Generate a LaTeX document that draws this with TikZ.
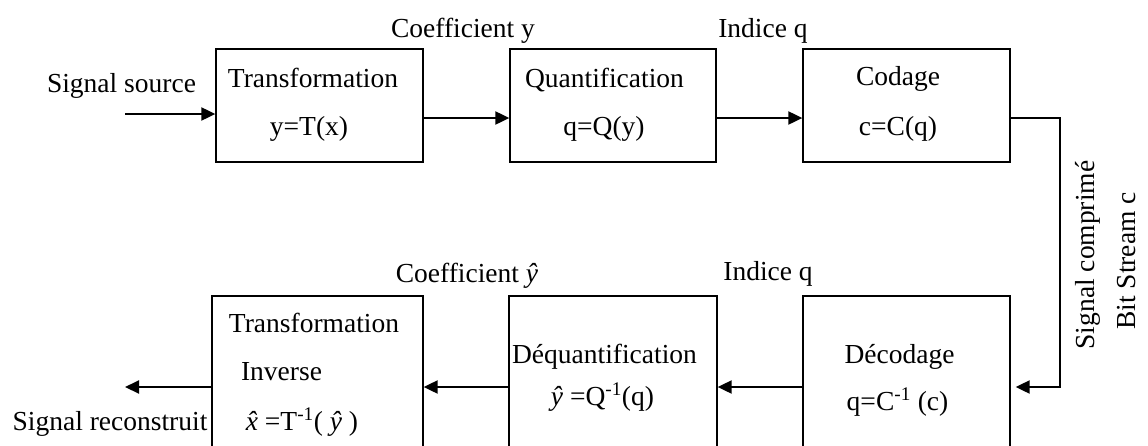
\documentclass[tikz,border=0pt]{standalone}
\usepackage{fontspec}
\setmainfont{Liberation Serif}
\usetikzlibrary{arrows.meta,calc}
\newcommand{\xhatit}{{\ooalign{\textit{x}\cr\hidewidth\textit{ˆ}\hidewidth\cr}}}
\begin{document}
\begin{tikzpicture}[x=1pt,y=-1pt,
  blk/.style={draw, line width=1.3pt, inner sep=0pt},
  topblk/.style={blk, minimum width=207pt, minimum height=113pt},
  botblk/.style={blk, minimum width=208pt, minimum height=182pt},
  lbl/.style={font=\fontsize{27.5}{33}\selectfont, anchor=base, inner sep=0pt},
  arr/.style={line width=2pt, line join=miter, -{Triangle[length=14pt,width=13pt]}},
  ]
\useasboundingbox (0,0) rectangle (1148,445);
\clip (0,0) rectangle (1148,445);
% blocks
\node[topblk] (t1) at (319.5,105.5) {};
\node[topblk, minimum width=206pt] (q) at (613,105.5) {};
\node[topblk] (c) at (906.5,105.5) {};
\node[botblk, minimum width=211pt] (ti) at (317.5,387) {};
\node[botblk] (dq) at (613,387) {};
\node[botblk, minimum width=207pt] (dc) at (906.5,387) {};
% texts inside blocks
\node[lbl] at (313,87) {Transformation};
\node[lbl] at (309,135) {y=T(x)};
\node[lbl] at (604.5,87) {Quantification};
\node[lbl] at (604,135) {q=Q(y)};
\node[lbl] at (898,85) {Codage};
\node[lbl] at (898,135) {c=C(q)};
\node[lbl] at (314,332) {Transformation};
\node[lbl] at (281.5,380) {Inverse};
\node[lbl] at (302,430) {\xhatit{} =T\textsuperscript{-1}( \textit{ŷ} )};
\node[lbl] at (604.5,363) {Déquantification};
\node[lbl] at (602.5,405) {\textit{ŷ} =Q\textsuperscript{-1}(q)};
\node[lbl] at (899.5,363) {Décodage};
\node[lbl] at (897.5,410) {q=C\textsuperscript{-1} (c)};
% outside labels
\node[lbl] at (121.5,92) {Signal source};
\node[lbl] at (463,37) {Coefficient y};
\node[lbl] at (763,37) {Indice q};
\node[lbl] at (467,282) {Coefficient \textit{ŷ}};
\node[lbl] at (768,280) {Indice q};
\node[lbl] at (110,430) {Signal reconstruit};
\node[lbl, rotate=90] at (1094,255) {Signal comprimé};
\node[lbl, rotate=90] at (1135,261) {Bit Stream c};
% connectors
\coordinate (src) at (125,114);
\coordinate (dst) at (125,387);
\coordinate (turn) at (1060,387);
\draw[arr] (src) -- (src -| t1.west);
\draw[arr] ([yshift=-12.5pt]t1.east) -- ([yshift=-12.5pt]q.west);
\draw[arr] ([yshift=-12.5pt]q.east) -- ([yshift=-12.5pt]c.west);
\draw[arr] ([yshift=-12.5pt]c.east) -| (turn) -- ([xshift=5pt]dc.east);
\draw[arr] (dc.west) -- (dq.east);
\draw[arr] (dq.west) -- (ti.east);
\draw[arr] (ti.west) -- (dst);
\end{tikzpicture}
\end{document}
